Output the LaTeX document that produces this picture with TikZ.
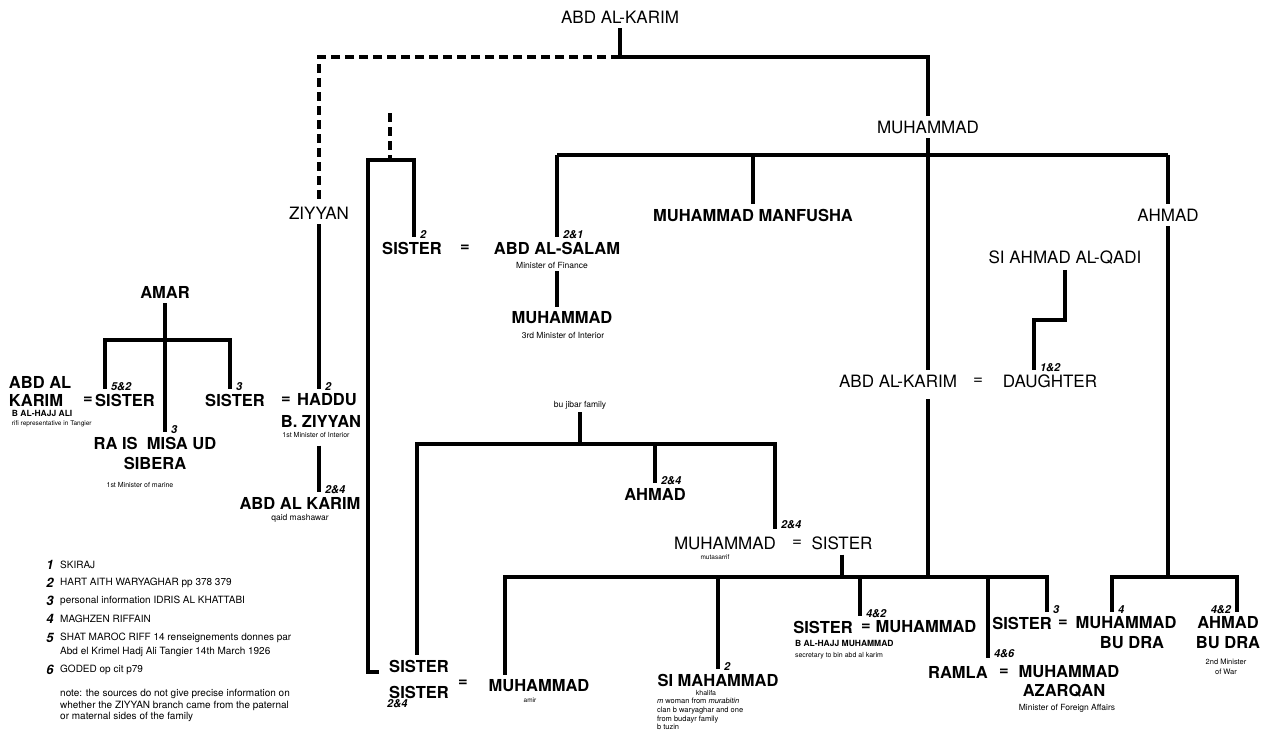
\documentclass[tikz,border=0pt]{standalone}
\usepackage{fontspec}
\setmainfont{TeX Gyre Heros}
\usetikzlibrary{positioning}

\begin{document}
\begin{tikzpicture}[x=1pt, y=-1pt,
        person/.style={font=\fontsize{16.5}{20}\selectfont\bfseries, inner sep=0pt, outer sep=5pt},
        elder/.style={font=\fontsize{17}{20}\selectfont, inner sep=0pt, outer sep=5pt},
        note/.style={font=\fontsize{8.5}{10}\selectfont, inner sep=0pt, outer sep=3pt},
        src/.style={font=\fontsize{11}{11}\selectfont\bfseries\itshape, inner sep=4pt, yshift=2pt},
        key/.style={font=\fontsize{13}{13}\selectfont\bfseries\itshape, inner sep=0pt},
        legend/.style={font=\fontsize{10}{11.5}\selectfont, inner sep=0pt, anchor=west},
        kin/.style={line width=4pt},
        guess/.style={line width=3.2pt, dash pattern=on 9pt off 5pt},
    ]
    \useasboundingbox (0,0) rectangle (1274,755);

    % first generations
    \node[elder] (karim) at (620,17) {ABD AL-KARIM};
    \node[elder] (muh) at (928,127) {MUHAMMAD};
    \node[elder] (ziyyan) at (319,213) {ZIYYAN};
    \coordinate (fork) at (620,57);
    \coordinate (zcorner) at (319,57);
    \coordinate (mcorner) at (928,57);

    \draw[kin] (karim) -- (fork);
    \draw[guess] (fork) -- (zcorner) -- (ziyyan);
    \draw[kin] (fork) -- (mcorner) -- (muh);

    % children of muhammad
    \node[person] (sis2) at (412,248) {SISTER};
    \node[person] (eq2) at (465,248) {=};
    \node[person] (salam) at (557,248) {ABD AL-SALAM};
    \node[note] (salamN) at (552,265) {Minister of Finance};
    \node[person] (muh3) at (562,318) {MUHAMMAD};
    \node[note] (muh3N) at (563,335) {3rd Minister of Interior};
    \node[person] (manf) at (753,215) {MUHAMMAD MANFUSHA};
    \node[elder] (ahmadR) at (1168,215) {AHMAD};
    \node[elder] (qadi) at (1065,258) {SI AHMAD AL-QADI};
    \node[elder] (kar1) at (898,381) {ABD AL-KARIM};
    \node[elder] (eq1) at (978,381) {=};
    \node[elder] (daughter) at (1050,381) {DAUGHTER};

    \coordinate (sons) at (557,155);
    \coordinate (sonsR) at (1168,155);
    \coordinate (qstep) at (1034,320);

    \draw[kin] (sons) -- (sonsR);
    \draw[kin] (muh) -- (muh |- kar1.north);
    \draw[kin] (sons) -- (salam.north) node[src, anchor=west] {2\&1};
    \draw[kin] (salam |- salamN.south) -- (salam |- muh3.north);
    \draw[kin] (manf |- sons) -- (manf);
    \draw[kin] (sonsR) -- (ahmadR);
    \draw[kin] (qadi) |- (qstep) -- (qstep |- daughter.north) node[src, anchor=west] {1\&2};

    % amar and haddu
    \node[person] (amar) at (165,292) {AMAR};
    \node[person, anchor=west] (abdal) at (4,382) {ABD AL};
    \node[person, anchor=west] (karim2) at (4,400) {KARIM};
    \node[person] (eq7) at (88,400) {=};
    \node[person] (sis7) at (125,400) {SISTER};
    \node[note, anchor=west, font=\fontsize{8.5}{10}\selectfont\bfseries] (sis7B) at (9,413) {B AL-HAJJ ALI};
    \node[note, anchor=west, font=\fontsize{6.5}{8}\selectfont] (sis7N) at (9,424) {rifi representative in Tangier};
    \node[person, align=center] (rais) at (155,453) {RA IS\ \ MISA UD\\SIBERA};
    \node[note, font=\fontsize{7}{8}\selectfont] (raisN) at (140,485) {1st Minister of marine};
    \node[person] (sis8) at (235,400) {SISTER};
    \node[person] (eq8) at (286,400) {=};
    \node[person] (haddu) at (327,400) {HADDU};
    \node[person] (hadduB) at (321,421) {B. ZIYYAN};
    \node[note, font=\fontsize{7}{8}\selectfont] (hadduN) at (316,435) {1st Minister of Interior};
    \node[person] (karB) at (300,503) {ABD AL KARIM};
    \node[note] (karBN) at (300,518) {qaid mashawar};

    \coordinate (amarL) at (105,340);
    \coordinate (amarR) at (230,340);
    \draw[kin] (amar) -- (amar |- rais.north) node[src, anchor=west] {3};
    \draw[kin] (amarL |- sis7.north) node[src, anchor=west] {5\&2} -- (amarL) -- (amarR) -- (amarR |- sis8.north) node[src, anchor=west] {3};
    \draw[kin] (ziyyan) -- (ziyyan |- haddu.north) node[src, anchor=west] {2};
    \draw[kin, shorten <=5pt] (ziyyan |- hadduN.south) -- (ziyyan |- karB.north) node[src, anchor=west] {2\&4};

    % grandchildren
    \node[person] (sisA) at (419,666) {SISTER};
    \node[person] (sisB) at (419,692) {SISTER};
    \node[src, anchor=west] (sisBsrc) at (383,706) {2\&4};
    \node[person] (eqA) at (463,683) {=};
    \node[person] (muh5) at (539,686) {MUHAMMAD};
    \node[note, font=\fontsize{6.5}{8}\selectfont] (muh5N) at (530,700) {amir};

    \node[person] (simah) at (718,680) {SI MAHAMMAD};
    \node[note, font=\fontsize{7}{8}\selectfont] (simahK) at (706,693) {khalifa};
    \node[note, font=\fontsize{7.5}{8.8}\selectfont, align=left, anchor=north west, outer sep=0pt] (simahN) at (657,698) {\textit{m} woman from \textit{murabitin}\\clan b waryaghar and one\\from budayr family\\b tuzin};

    \node[person] (sis6) at (823,627) {SISTER};
    \node[person] (eq6) at (866,627) {=};
    \node[person] (muh6) at (926,627) {MUHAMMAD};
    \node[note, anchor=west, font=\fontsize{8.5}{10}\selectfont\bfseries] (muh6B) at (792,643) {B AL-HAJJ MUHAMMAD};
    \node[note, anchor=west, font=\fontsize{7}{8}\selectfont] (muh6N) at (792,656) {secretary to bin abd al karim};

    \node[person] (ramla) at (958,672) {RAMLA};
    \node[person] (eq10) at (1004,672) {=};
    \node[person] (muh10) at (1069,672) {MUHAMMAD};
    \node[person] (azarqan) at (1064,691) {AZARQAN};
    \node[note] (muh10N) at (1067,708) {Minister of Foreign Affairs};

    \node[person] (sis9) at (1022,623) {SISTER};
    \node[person] (eq9) at (1063,623) {=};
    \node[person] (mbud) at (1126,623) {MUHAMMAD};
    \node[person] (mbud2) at (1132,643) {BU DRA};
    \node[person, align=center] (abud) at (1228,633) {AHMAD\\BU DRA};
    \node[note, align=center, font=\fontsize{7.5}{10}\selectfont] (abudN) at (1226,667) {2nd Minister\\of War};

    % the unknown branch
    \coordinate (lost) at (390,113);
    \coordinate (lostfork) at (390,160);
    \coordinate (brL) at (368,160);
    \coordinate (brR) at (414,160);
    \coordinate (brTick) at (379,672);
    \draw[guess] (lost) -- (lostfork);
    \draw[kin] (brTick) -- (brL |- brTick) -- (brL) -- (brR) -- (brR |- sis2.north) node[src, anchor=west] {2};

    % bu jibar family
    \node[note] (bujibar) at (580,405) {bu jibar family};
    \node[person] (ahmadJ) at (655,494) {AHMAD};
    \node[elder] (muh4) at (725,543) {MUHAMMAD};
    \node[elder] (eq4) at (797,543) {=};
    \node[elder] (sis4) at (842,543) {SISTER};
    \node[note, font=\fontsize{6.5}{8}\selectfont] (muh4N) at (715,557) {mutasarrif};

    \coordinate (jibL) at (417,444);
    \coordinate (jibR) at (775,444);
    \draw[kin] (bujibar) -- (bujibar |- jibL);
    \draw[kin, shorten >=3pt] (jibL |- sisA.north) -- (jibL) -- (jibR) -- (jibR |- muh4.north) node[src, anchor=west, yshift=5pt] {2\&4};
    \draw[kin] (ahmadJ |- jibL) -- (ahmadJ.north) node[src, anchor=west] {2\&4};

    % lower bars
    \coordinate (grandL) at (505,577);
    \coordinate (grandR) at (1047,577);
    \coordinate (toSis6) at (860,577);
    \coordinate (toRamla) at (988,577);
    \coordinate (bdL) at (1112,577);
    \coordinate (bdR) at (1237,577);

    \draw[kin] (grandL |- muh5.north) -- (grandL) -- (grandR) -- (grandR |- sis9.north) node[src, anchor=west] {3};
    \draw[kin, shorten <=7pt] (muh |- kar1.south) -- (muh |- grandL);
    \draw[kin] (sis4) -- (sis4 |- grandL);
    \draw[kin] (simah |- grandL) -- (simah.north) node[src, anchor=west] {2};
    \draw[kin] (toSis6) -- (toSis6 |- sis6.north) node[src, anchor=west] {4\&2};
    \draw[kin, shorten >=3pt] (toRamla) -- (toRamla |- ramla.north) node[src, anchor=west, yshift=5pt] {4\&6};
    \draw[kin] (ahmadR) -- (ahmadR |- bdL);
    \draw[kin] (bdL |- mbud.north) node[src, anchor=west] {4} -- (bdL) -- (bdR) -- (bdR |- abud.north) node[src, anchor=east] {4\&2};

    % sources
    \node[key] (k1) at (50,565) {1};
    \node[legend] (k1t) at (60,565) {SKIRAJ};
    \node[key] (k2) at (50,583) {2};
    \node[legend] (k2t) at (60,583) {HART AITH WARYAGHAR pp 378 379};
    \node[key] (k3) at (50,601) {3};
    \node[legend] (k3t) at (60,601) {personal information IDRIS AL KHATTABI};
    \node[key] (k4) at (50,619) {4};
    \node[legend] (k4t) at (60,619) {MAGHZEN RIFFAIN};
    \node[key] (k5) at (50,638) {5};
    \node[legend] (k5t) at (60,638) {SHAT MAROC RIFF 14 renseignements donnes par};
    \node[legend] (k5u) at (60,652) {Abd el Krimel Hadj Ali Tangier 14th March 1926};
    \node[key] (k6) at (50,670) {6};
    \node[legend] (k6t) at (60,670) {GODED op cit p79};
    \node[legend, align=left, anchor=north west] (knote) at (60,689) {note: the sources do not give precise information on\\whether the ZIYYAN branch came from the paternal\\or maternal sides of the family};
\end{tikzpicture}
\end{document}
